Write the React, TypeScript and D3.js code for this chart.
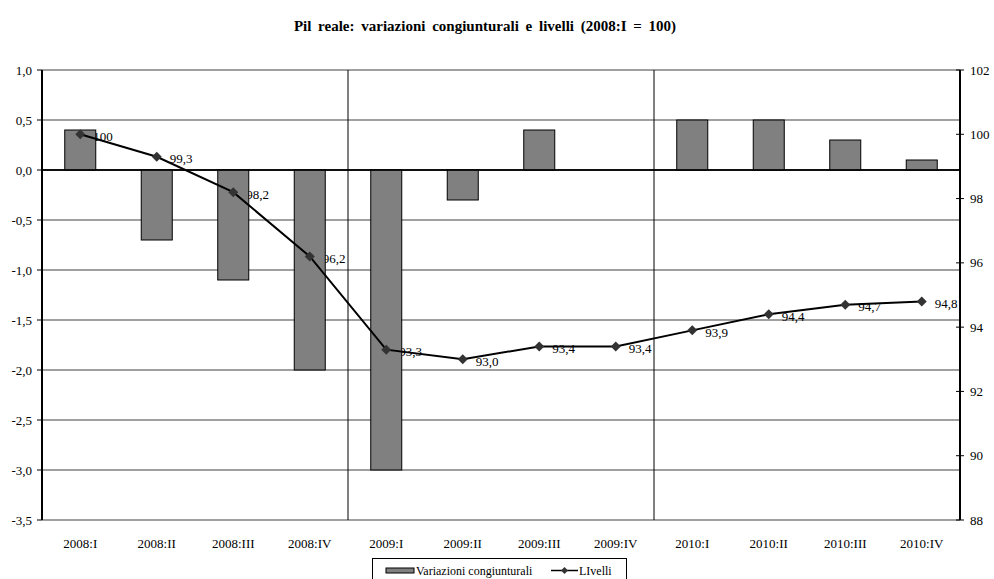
import React from "react";
import * as d3 from "d3";

const categories = [
  "2008:I", "2008:II", "2008:III", "2008:IV",
  "2009:I", "2009:II", "2009:III", "2009:IV",
  "2010:I", "2010:II", "2010:III", "2010:IV",
];
const variazioni = [0.4, -0.7, -1.1, -2.0, -3.0, -0.3, 0.4, 0, 0.5, 0.5, 0.3, 0.1];
const livelli = [100, 99.3, 98.2, 96.2, 93.3, 93.0, 93.4, 93.4, 93.9, 94.4, 94.7, 94.8];
const livelliLabels = ["100", "99,3", "98,2", "96,2", "93,3", "93,0", "93,4", "93,4", "93,9", "94,4", "94,7", "94,8"];
const leftTicks = [1.0, 0.5, 0.0, -0.5, -1.0, -1.5, -2.0, -2.5, -3.0, -3.5];
const rightTicks = [102, 100, 98, 96, 94, 92, 90, 88];
const yearStarts = ["2009:I", "2010:I"];

const W = 994;
const H = 579;
const M = { left: 42, right: 960, top: 70, bottom: 520 };
const FONT = "'Liberation Serif', 'Times New Roman', serif";

export default function App() {
  const x = d3.scaleBand<string>().domain(categories).range([M.left, M.right]).paddingInner(0).paddingOuter(0);
  const yL = d3.scaleLinear().domain([-3.5, 1.0]).range([M.bottom, M.top]);
  const yR = d3.scaleLinear().domain([88, 102]).range([M.bottom, M.top]);
  const barW = 31;
  const cx = (c: string) => (x(c) as number) + x.bandwidth() / 2;

  const line = d3
    .line<number>()
    .x((_, i) => cx(categories[i]))
    .y((d) => yR(d));

  const diamond = (px: number, py: number, r = 5) =>
    `M${px},${py - r}L${px + r},${py}L${px},${py + r}L${px - r},${py}Z`;

  const fmt = (v: number) => d3.format(".1f")(v).replace(".", ",").replace("−", "-");

  return (
    <svg width={W} height={H} style={{ position: "absolute", left: 0, top: 0 }} fontFamily={FONT}>
      <rect x={0} y={0} width={W} height={H} fill="#fff" />
      <text x={485} y={31} textAnchor="middle" fontSize={15} fontWeight="bold" wordSpacing={3}>
        Pil reale: variazioni congiunturali e livelli (2008:I = 100)
      </text>

      {/* horizontal gridlines */}
      {leftTicks.map((t) => (
        <line
          key={`g${t}`}
          x1={M.left}
          x2={M.right}
          y1={yL(t)}
          y2={yL(t)}
          stroke={t === 0 ? "#000" : "#808080"}
          strokeWidth={1.3}
        />
      ))}

      {/* year separators */}
      {yearStarts.map((c) => (
        <line key={c} x1={x(c)} x2={x(c)} y1={M.top} y2={M.bottom} stroke="#000" strokeWidth={1} />
      ))}

      {/* level value labels (sit beneath the marks) */}
      {livelli.map((v, i) => (
        <text key={`t${i}`} x={cx(categories[i]) + 13} y={yR(v) + 2} dy="0.35em" fontSize={13}>
          {livelliLabels[i]}
        </text>
      ))}

      {/* bars */}
      {variazioni.map((v, i) =>
        v === 0 ? null : (
          <rect
            key={`b${i}`}
            x={cx(categories[i]) - barW / 2}
            y={yL(Math.max(0, v))}
            width={barW}
            height={Math.abs(yL(v) - yL(0))}
            fill="#808080"
            stroke="#000"
            strokeWidth={1}
          />
        )
      )}
      <line x1={M.left} x2={M.right} y1={yL(0)} y2={yL(0)} stroke="#000" strokeWidth={1.3} />

      {/* left axis */}
      <line x1={M.left} x2={M.left} y1={M.top} y2={M.bottom} stroke="#000" strokeWidth={2} />
      {leftTicks.map((t) => (
        <g key={`l${t}`}>
          <line x1={M.left - 5} x2={M.left} y1={yL(t)} y2={yL(t)} stroke="#000" />
          <text x={M.left - 10} y={yL(t)} dy="0.35em" textAnchor="end" fontSize={13}>
            {fmt(t)}
          </text>
        </g>
      ))}

      {/* right axis */}
      <line x1={M.right} x2={M.right} y1={M.top} y2={M.bottom} stroke="#000" strokeWidth={2} />
      {rightTicks.map((t) => (
        <g key={`r${t}`}>
          <line x1={M.right - 4} x2={M.right + 4} y1={yR(t)} y2={yR(t)} stroke="#000" />
          <text x={M.right + 10} y={yR(t)} dy="0.35em" textAnchor="start" fontSize={13}>
            {t}
          </text>
        </g>
      ))}

      {/* category labels */}
      {categories.map((c) => (
        <text key={`c${c}`} x={cx(c)} y={548} textAnchor="middle" fontSize={13}>
          {c}
        </text>
      ))}

      {/* levels line */}
      <path d={line(livelli) || ""} fill="none" stroke="#000" strokeWidth={2} />
      {livelli.map((v, i) => (
        <path key={`m${i}`} d={diamond(cx(categories[i]), yR(v))} fill="#333" />
      ))}

      {/* legend */}
      <rect x={372.5} y={558.5} width={254} height={30} fill="#fff" stroke="#000" strokeWidth={1} />
      <rect x={386} y={568} width={28} height={5} fill="#808080" stroke="#000" strokeWidth={1} />
      <text x={416} y={571} dy="0.35em" fontSize={12}>Variazioni congiunturali</text>
      <line x1={551} x2={578} y1={570.5} y2={570.5} stroke="#000" strokeWidth={1.5} />
      <path d={diamond(564.5, 570.5, 3.5)} fill="#333" />
      <text x={579} y={571} dy="0.35em" fontSize={12}>LIvelli</text>
    </svg>
  );
}
